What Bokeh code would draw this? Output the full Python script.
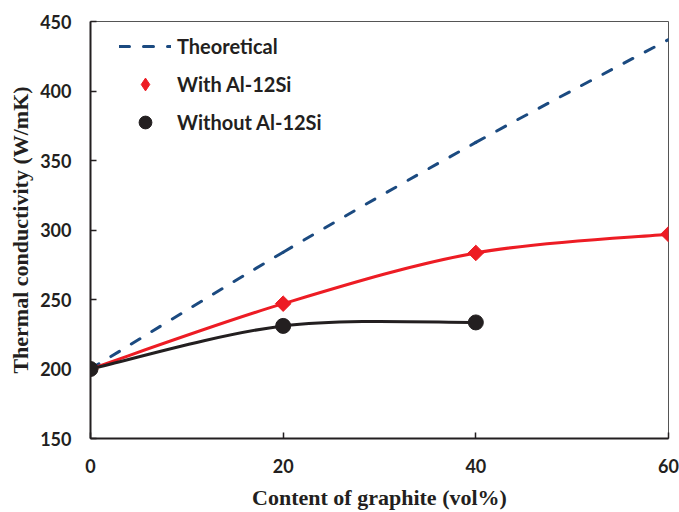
import numpy as np
from bokeh.plotting import figure
from bokeh.models import Range1d, Legend, LegendItem, FixedTicker, ColumnDataSource
from bokeh.embed import file_html
from bokeh.resources import INLINE

# ---- data ----
graphite = [0, 20, 40, 60]
theoretical = [200, 284, 363, 437]
with_al = [200, 247, 283.5, 297]
graphite_wo = [0, 20, 40]
without_al = [200, 231, 233.5]
x_ticks = [0, 20, 40, 60]
y_ticks = [150, 200, 250, 300, 350, 400, 450]

BLUE = "#1B4A80"
RED = "#ED1C24"
BLACK = "#231F20"


def smooth_segments(xs, ys):
    """Catmull-Rom style smoothing (like spreadsheet 'smoothed line')."""
    xs = np.asarray(xs, float)
    ys = np.asarray(ys, float)
    n = len(xs)
    seg = dict(x0=[], y0=[], x1=[], y1=[], cx0=[], cy0=[], cx1=[], cy1=[])
    for i in range(n - 1):
        p0 = i - 1 if i > 0 else i
        p3 = i + 2 if i + 2 < n else i + 1
        seg["x0"].append(xs[i]); seg["y0"].append(ys[i])
        seg["x1"].append(xs[i + 1]); seg["y1"].append(ys[i + 1])
        seg["cx0"].append(xs[i] + (xs[i + 1] - xs[p0]) / 6)
        seg["cy0"].append(ys[i] + (ys[i + 1] - ys[p0]) / 6)
        seg["cx1"].append(xs[i + 1] - (xs[p3] - xs[i]) / 6)
        seg["cy1"].append(ys[i + 1] - (ys[p3] - ys[i]) / 6)
    return ColumnDataSource(seg)


p = figure(width=679, height=512, output_backend="svg", toolbar_location=None,
           x_range=Range1d(0, 60), y_range=Range1d(150, 450),
           min_border_left=90, min_border_right=11, min_border_top=21, min_border_bottom=74)

p.background_fill_color = "white"
p.border_fill_color = "white"
p.outline_line_color = "#555555"
p.outline_line_width = 1
p.xgrid.grid_line_color = None
p.ygrid.grid_line_color = None

bez = dict(x0="x0", y0="y0", x1="x1", y1="y1", cx0="cx0", cy0="cy0", cx1="cx1", cy1="cy1")
r_theo = p.bezier(source=smooth_segments(graphite, theoretical), line_color=BLUE, line_width=3,
                  line_dash="10 14", line_cap="round", **bez)
p.bezier(source=smooth_segments(graphite, with_al), line_color=RED, line_width=3, **bez)
p.bezier(source=smooth_segments(graphite_wo, without_al), line_color=BLACK, line_width=3, **bez)

r_with = p.scatter(graphite, with_al, marker="square", angle=np.pi / 4, size=11,
                   fill_color=RED, line_color=RED)
r_wo = p.scatter(graphite_wo, without_al, marker="circle", size=15,
                 fill_color=BLACK, line_color=BLACK)
# legend-only diamond (same series, drawn invisibly on the plot)
r_with_leg = p.scatter(graphite, with_al, marker="diamond", size=0,
                       fill_color=RED, line_color=RED)

legend = Legend(items=[
    LegendItem(label="Theoretical", renderers=[r_theo], index=0),
    LegendItem(label="With Al-12Si", renderers=[r_with_leg]),
    LegendItem(label="Without Al-12Si", renderers=[r_wo]),
], location=(29, 300))
legend.glyph_width = 52
legend.glyph_height = 32
legend.spacing = 6
legend.padding = 0
legend.margin = 0
legend.label_standoff = 6
legend.label_text_font = "Lato"
legend.label_text_font_style = "bold"
legend.label_text_font_size = "20px"
legend.label_text_color = BLACK
legend.background_fill_alpha = 0
legend.border_line_color = None
p.add_layout(legend)

# axes
for ax in (p.xaxis[0], p.yaxis[0]):
    ax.axis_line_color = BLACK
    ax.axis_line_width = 2
    ax.major_tick_in = 6
    ax.major_tick_out = 0
    ax.major_tick_line_color = BLACK
    ax.major_tick_line_width = 1.5
    ax.minor_tick_line_color = None
    ax.major_label_text_font = "Lato"
    ax.major_label_text_font_style = "bold"
    ax.major_label_text_font_size = "18px"
    ax.major_label_text_color = BLACK
    ax.axis_label_text_font = "Liberation Serif"
    ax.axis_label_text_font_style = "bold"
    ax.axis_label_text_font_size = "22px"
    ax.axis_label_text_color = BLACK

p.xaxis.ticker = FixedTicker(ticks=x_ticks)
p.yaxis.ticker = FixedTicker(ticks=y_ticks)
p.xaxis.axis_label = "Content of graphite (vol%)"
p.yaxis.axis_label = "Thermal conductivity (W/mK)"
p.xaxis.major_label_standoff = 20
p.yaxis.major_label_standoff = 19
p.xaxis.axis_label_standoff = 9
p.yaxis.axis_label_standoff = 4

open("out.html", "w").write(file_html(p, INLINE))
